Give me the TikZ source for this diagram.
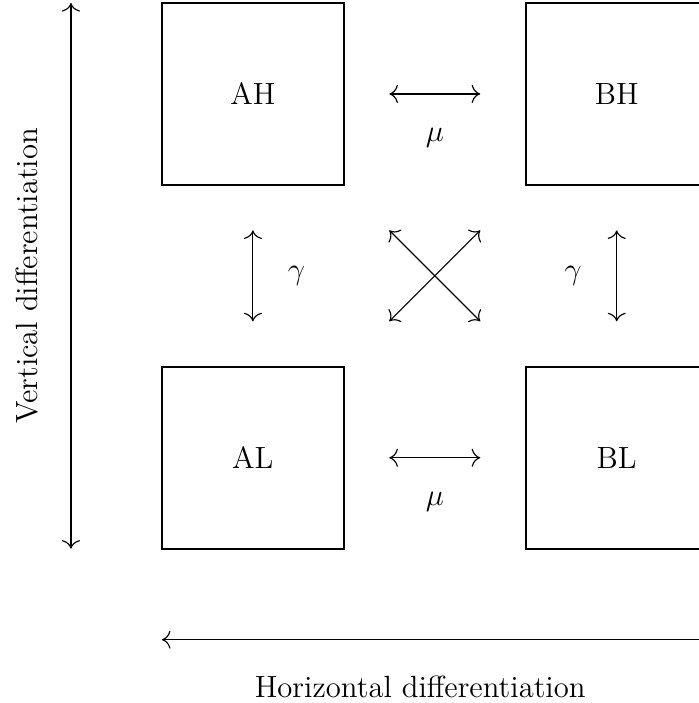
\documentclass[tikz,border=0pt]{standalone}
\usepackage{amsmath,amssymb}
\usepackage{tikz}
\usetikzlibrary{arrows.meta, positioning}

\begin{document}
\begin{tikzpicture}[
        box/.style={rectangle, draw=black, thick, minimum size=2.5cm, inner sep=0pt, outer sep=0pt, font=\large},
        line/.style={draw, line width=0.45pt, {To[scale=1.3]}-{To[scale=1.3]}},
        lbl/.style={font=\large},
        node distance=2.5cm
    ]
        \useasboundingbox (-3.475,-3.37) rectangle (6.126,6.291);

        \node [box] (AL) at (0,0) {AL};
        \node [box, above=of AL] (AH) {AH};
        \node [box, right=of AL] (BL) {BL};
        \node [box, right=of AH] (BH) {BH};

        % exchanges between the four groups
        \path [line] ([xshift=0.625cm]AH.east) -- node[lbl, yshift=-0.6cm] (muH) {$\mu$} ([xshift=-0.625cm]BH.west);
        \path [line] ([xshift=0.625cm]AL.east) -- node[lbl, yshift=-0.6cm] (muL) {$\mu$} ([xshift=-0.625cm]BL.west);
        \path [line] ([yshift=0.625cm]AL.north) -- node[lbl, xshift=0.6cm] (gammaA) {$\gamma$} ([yshift=-0.625cm]AH.south);
        \path [line] ([yshift=0.625cm]BL.north) -- node[lbl, xshift=-0.6cm] (gammaB) {$\gamma$} ([yshift=-0.625cm]BH.south);
        \path [line] ([shift={(0.625cm,0.625cm)}]AL.north east) -- ([shift={(-0.625cm,-0.625cm)}]BH.south west);
        \path [line] ([shift={(-0.625cm,0.625cm)}]BL.north west) -- ([shift={(0.625cm,-0.625cm)}]AH.south east);

        % the two axes
        \path [line] ([xshift=-2.5cm]AH.north) -- ([xshift=-2.5cm]AL.south);
        \node [lbl, rotate=90] (vert) at (-3.1,2.5) {Vertical differentiation};
        \path [line] ([yshift=-1.25cm]AL.south west) -- ([yshift=-1.25cm]BL.south east);
        \node [lbl] (horiz) at (2.3,-3.15) {Horizontal differentiation};
    \end{tikzpicture}
\end{document}
